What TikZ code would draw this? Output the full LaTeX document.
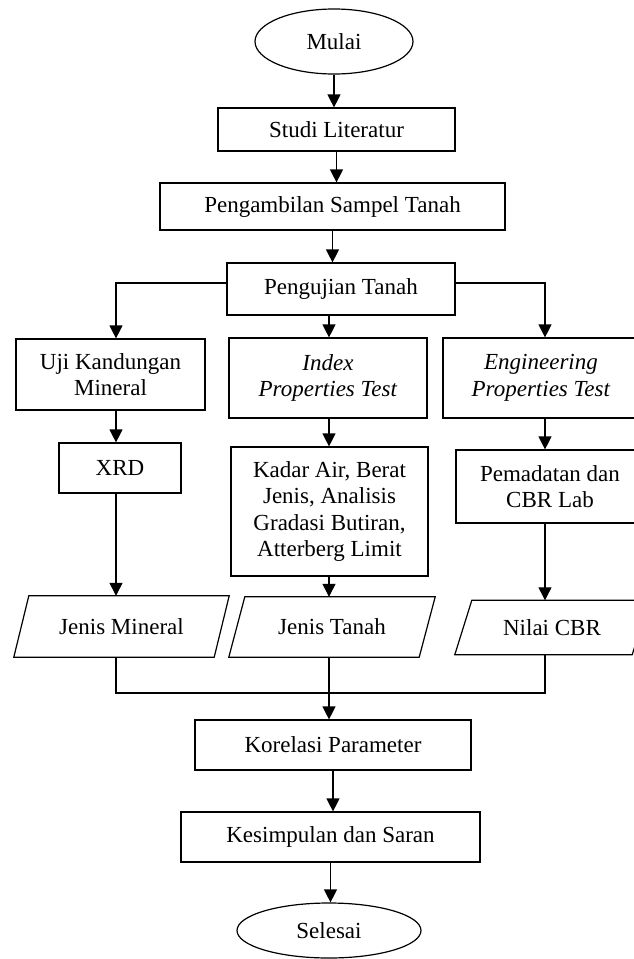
\documentclass[tikz,border=0pt]{standalone}
\usepackage{fontspec}
\setmainfont{Liberation Serif}
\usetikzlibrary{arrows.meta,shapes.geometric}
\begin{document}
\begin{tikzpicture}[x=1pt,y=-1pt,
  every node/.style={font=\fontsize{23}{26.5}\selectfont, inner sep=0pt, align=center},
  box/.style={draw, line width=1.2pt, rectangle},
  term/.style={draw, line width=1.2pt, ellipse},
  io/.style={rectangle},
  arr/.style={line width=1.2pt, -{Triangle[length=13pt,width=13pt]}},
  con/.style={line width=1.2pt}]
\useasboundingbox (0,0) rectangle (633,959);
\fill[white] (0,0) rectangle (633,959);

\node[term, minimum width=158pt, minimum height=65pt] (mulai) at (334,41.5) {Mulai};
\node[box, minimum width=237pt, minimum height=43pt] (studi) at (336.5,129.5) {Studi Literatur};
\node[box, minimum width=345pt, minimum height=47pt] (ambil) at (332.5,206.5) {Pengambilan Sampel Tanah};
\node[box, minimum width=228pt, minimum height=52pt] (uji) at (341,289) {Pengujian Tanah};

\node[box, minimum width=189pt, minimum height=71pt] (mineral) at (110.5,374.5) {Uji Kandungan\\Mineral};
\node[box, minimum width=198pt, minimum height=80pt] (index) at (328,378) {\textit{Index}\\\textit{Properties Test}};
\node[box, minimum width=196pt, minimum height=80pt] (eng) at (541,378) {\textit{Engineering}\\\textit{Properties Test}};

\node[box, minimum width=122pt, minimum height=50pt] (xrd) at (120,468) {XRD};
\node[box, minimum width=197pt, minimum height=129pt] (kadar) at (329.5,511.5) {Kadar Air, Berat\\Jenis, Analisis\\Gradasi Butiran,\\Atterberg Limit};
\node[box, minimum width=188pt, minimum height=73pt] (pem) at (550,486.5) {Pemadatan dan\\CBR Lab};

\node[io, minimum width=200pt, minimum height=61pt] (jm) at (121.5,626.5) {Jenis Mineral};
\node[io, minimum width=190pt, minimum height=60pt] (jt) at (332,627) {Jenis Tanah};
\node[io, minimum width=177pt, minimum height=54pt] (nc) at (552,627.5) {Nilai CBR};
\draw[con] ([xshift=7.5pt]jm.north west) -- ([xshift=7.5pt]jm.north east) -- ([xshift=-7.5pt]jm.south east) -- ([xshift=-7.5pt]jm.south west) -- cycle;
\draw[con] ([xshift=8pt]jt.north west) -- ([xshift=8pt]jt.north east) -- ([xshift=-8pt]jt.south east) -- ([xshift=-8pt]jt.south west) -- cycle;
\draw[con] ([xshift=8.5pt]nc.north west) -- ([xshift=8.5pt]nc.north east) -- ([xshift=-8.5pt]nc.south east) -- ([xshift=-8.5pt]nc.south west) -- cycle;

\node[box, minimum width=276pt, minimum height=50pt] (kor) at (333,745) {Korelasi Parameter};
\node[box, minimum width=299pt, minimum height=50pt] (kes) at (330.5,837) {Kesimpulan dan Saran};
\node[term, minimum width=184pt, minimum height=55pt] (sel) at (329,930.5) {Selesai};

\coordinate (colL) at (116,0);
\coordinate (colM) at (329,0);
\coordinate (colR) at (545,0);
\coordinate (merge) at (0,693);

\draw[arr] (mulai.south) -- (mulai.south |- studi.north);
\draw[arr] (studi.south) -- (studi.south |- ambil.north);
\draw[arr] (ambil.south) -- (ambil.south |- uji.north);

\draw[arr] ([yshift=6pt]uji.west) -| (mineral.north -| colL);
\draw[arr] (uji.south -| colM) -- (index.north -| colM);
\draw[arr] ([yshift=6pt]uji.east) -| (eng.north -| colR);

\draw[arr] (mineral.south -| colL) -- (xrd.north -| colL);
\draw[arr] (index.south -| colM) -- (kadar.north -| colM);
\draw[arr] (eng.south -| colR) -- (pem.north -| colR);

\draw[arr] (xrd.south -| colL) -- (jm.north -| colL);
\draw[arr] (kadar.south -| colM) -- (jt.north -| colM);
\draw[arr] (pem.south -| colR) -- (nc.north -| colR);

\draw[con] (jm.south -| colL) -- (colL |- merge) -- (colR |- merge) -- (nc.south -| colR);
\draw[arr] (jt.south -| colM) -- (kor.north -| colM);
\draw[arr] (kor.south) -- (kor.south |- kes.north);
\draw[arr] (kes.south) -- (kes.south |- sel.north);
\end{tikzpicture}
\end{document}
